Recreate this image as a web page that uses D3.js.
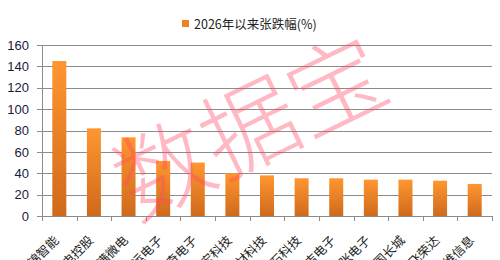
<!DOCTYPE html>
<html><head><meta charset="utf-8">
<script src="https://cdn.jsdelivr.net/npm/d3@7"></script>
<style>html,body{margin:0;padding:0;background:#fff;overflow:hidden}</style>
</head><body>
<svg id="c" width="500" height="260"></svg>
<script>
const categories = ["华锦智能","中电控股","富满微电","世运电子","和奇电子","胜宏科技","东材科技","中石科技","东吉电子","宏张电子","中国长城","飞荣达","拓维信息"];
const values = [145, 82, 73.6, 51.5, 50, 40, 38, 35.3, 35.3, 34, 34, 33, 30];
const yTicks = [0, 20, 40, 60, 80, 100, 120, 140, 160];
const seriesName = "2026年以来张跌幅(%)";
const watermark = "数据宝";

const svg = d3.select("#c");
const xb = d3.scaleBand().domain(categories).range([42, 492]);
const y = d3.scaleLinear().domain([0, 160]).range([216, 45]);

const defs = svg.append("defs");
const g = defs.append("linearGradient").attr("id","bg").attr("x1",0).attr("y1",0).attr("x2",0).attr("y2",1);
g.append("stop").attr("offset","0%").attr("stop-color","#ff9630");
g.append("stop").attr("offset","100%").attr("stop-color","#cf6a1c");

// gridlines
svg.append("g").selectAll("line").data(yTicks).join("line")
  .attr("x1", 37).attr("x2", 492).attr("y1", d => Math.round(y(d)) + 0.5).attr("y2", d => Math.round(y(d)) + 0.5)
  .attr("stroke", "#8c8c8c").attr("stroke-width", 1);

// y labels
svg.append("g").selectAll("text").data(yTicks).join("text")
  .attr("x", 29).attr("y", d => y(d)).attr("dy", "0.36em").attr("text-anchor", "end")
  .attr("font-family", "Liberation Sans, Arial, sans-serif").attr("font-size", 13).attr("fill", "#1a1a3a")
  .text(d => d);

// y axis line
svg.append("line").attr("x1", 42.5).attr("x2", 42.5).attr("y1", 45).attr("y2", 216).attr("stroke", "#8c8c8c");

// bars
svg.append("g").selectAll("rect").data(values).join("rect")
  .attr("x", (d, i) => xb(categories[i]) + xb.bandwidth()/2 - 7)
  .attr("width", 14)
  .attr("y", d => y(d))
  .attr("height", d => y(0) - y(d))
  .attr("fill", "url(#bg)");

// x ticks
const bounds = categories.map(c => xb(c)).concat([492]);
svg.append("g").selectAll("line").data(bounds).join("line")
  .attr("x1", d => Math.round(d) + 0.5).attr("x2", d => Math.round(d) + 0.5)
  .attr("y1", 216).attr("y2", 221).attr("stroke", "#8c8c8c");

// x labels
svg.append("g").selectAll("text").data(categories).join("text")
  .attr("transform", c => `translate(${xb(c) + xb.bandwidth()/2 - 6},${235}) rotate(-45)`)
  .attr("text-anchor", "end").attr("dy", "0.7em")
  .attr("font-family", "Noto Sans CJK SC").attr("font-size", 12.5).attr("fill", "#222")
  .text(c => c);

// legend
svg.append("rect").attr("x", 182).attr("y", 20).attr("width", 7).attr("height", 7).attr("fill", "#f08020");
svg.append("text").attr("x", 194).attr("y", 24).attr("dy", "0.36em")
  .attr("font-family", "Noto Sans CJK SC").attr("font-size", 12.5).attr("fill", "#222")
  .text(seriesName);

// watermark
svg.append("text").attr("transform", "translate(250,128) rotate(-26)")
  .attr("text-anchor", "middle").attr("dy", "0.36em")
  .attr("font-family", "Noto Sans CJK SC").attr("font-weight", 300).attr("font-size", 96)
  .attr("fill", "rgba(255,70,100,0.38)")
  .text(watermark);
</script>
</body></html>
